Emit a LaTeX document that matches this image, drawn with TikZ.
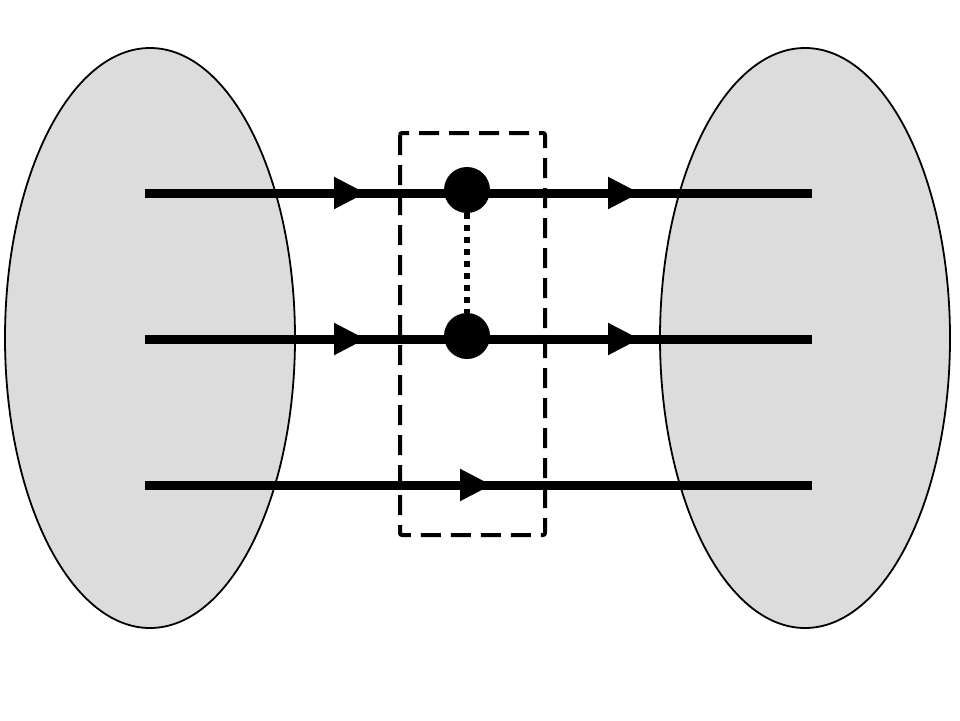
\documentclass[tikz,border=0pt]{standalone}
\usetikzlibrary{arrows.meta}
\begin{document}
\begin{tikzpicture}[x=1pt,y=-1pt,
  blob/.style={draw=black,line width=1.8pt,fill={rgb,255:red,220;green,220;blue,220}},
  wire/.style={line width=9pt},
  tip/.style={-{Triangle[length=32pt,width=30pt]}},
  dot/.style={circle,fill=black,minimum size=46pt,inner sep=0pt}]
\useasboundingbox (0,0) rectangle (960,720);
\draw[blob] (150,338) ellipse [x radius=145, y radius=290];
\draw[blob] (805,338) ellipse [x radius=145, y radius=290];
\foreach \y/\n in {193/a,339/b,485/c}{
  \coordinate (\n1) at (145,\y);
  \coordinate (\n2) at (812,\y);
}
\coordinate (a3) at (366,193); \coordinate (a4) at (640,193);
\coordinate (b3) at (366,339); \coordinate (b4) at (640,339);
\coordinate (c3) at (492,485);
\draw[wire] (a1) -- (a2); \draw[wire] (b1) -- (b2); \draw[wire] (c1) -- (c2);
\draw[wire,tip] (a1) -- (a3); \draw[wire,tip] (a3) -- (a4);
\draw[wire,tip] (b1) -- (b3); \draw[wire,tip] (b3) -- (b4);
\draw[wire,tip] (c1) -- (c3);
\node[dot] (d1) at (467,190) {};
\node[dot] (d2) at (467,336) {};
\draw[line width=6pt,dash pattern=on 6pt off 6pt] (d1) -- (d2);
\draw[line width=4pt,dash pattern=on 20pt off 10pt,rounded corners=2pt] (400,133) rectangle (545,535);
\end{tikzpicture}
\end{document}
